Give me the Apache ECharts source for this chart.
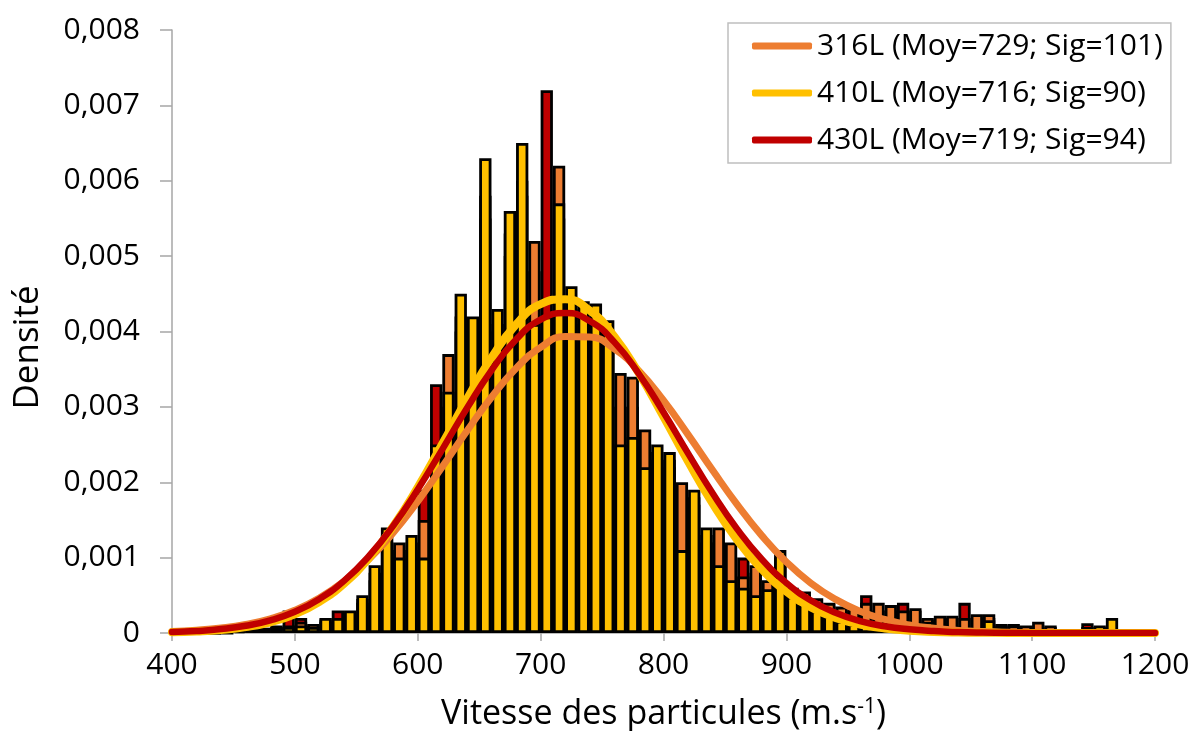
<!DOCTYPE html>
<html><head><meta charset="utf-8">
<script src="https://cdn.jsdelivr.net/npm/echarts@6/dist/echarts.min.js"></script>
<style>html,body{margin:0;padding:0;background:#fff}#c{width:1192px;height:731px}</style>
</head><body><div id="c"></div>
<script>
// Histogram bins (left edge, m/s), width 10
const bins = ['400','410','420','430','440','450','460','470','480','490',
  '500','510','520','530','540','550','560','570','580','590',
  '600','610','620','630','640','650','660','670','680','690',
  '700','710','720','730','740','750','760','770','780','790',
  '800','810','820','830','840','850','860','870','880','890',
  '900','910','920','930','940','950','960','970','980','990',
  '1000','1010','1020','1030','1040','1050','1060','1070','1080','1090',
  '1100','1110','1120','1130','1140','1150','1160','1170','1180','1190'];

// Histogram densities per bin
const hist316 = [0,0,0,0,0.00003,0.00004,0.00005,0.00006,0.00008,0.0001,
  0.00015,0.00012,0.00018,0.0002,0.00028,0.00045,0.0008,0.0013,0.0012,0.0012,
  0.0015,0.0024,0.0037,0.0042,0.004,0.0058,0.0041,0.0053,0.006,0.0052,
  0.004,0.0062,0.0044,0.0042,0.0042,0.004,0.00345,0.0034,0.0027,0.0024,
  0.0023,0.002,0.0018,0.0013,0.0014,0.0012,0.00075,0.0009,0.0007,0.001,
  0.0006,0.00055,0.00046,0.0004,0.00035,0.00033,0.0004,0.0004,0.00037,0.0003,
  0.00033,0.0002,0.00023,0.00023,0.0002,0.00025,0.00025,0.0001,0.0001,0.0001,
  0.00015,0.0001,0.00004,0.00004,0.00008,0.00008,0.00005,0,0,0.00002];
const hist410 = [0,0,0,0,0,0.00003,0.00004,0.00005,0.00007,0.00008,
  0.0001,0.00008,0.0002,0.0002,0.0003,0.0005,0.0009,0.0014,0.001,0.0013,
  0.001,0.0025,0.0032,0.0045,0.0042,0.0063,0.0043,0.0056,0.0065,0.0041,
  0.0042,0.0057,0.0046,0.0044,0.00437,0.00415,0.0025,0.0026,0.0022,0.0025,
  0.0024,0.0011,0.0019,0.0014,0.0009,0.0007,0.0006,0.0005,0.00058,0.0011,
  0.00048,0.0004,0.0003,0.00023,0.00016,0.00012,0.0001,0.00008,0.0001,0.0001,
  0.00005,0.00015,0.00005,0.00004,0.00005,0.00004,0.00017,0.00008,0.00005,0.00004,
  0.00004,0.00003,0.00003,0.00002,0.00003,0.0001,0.0002,0,0,0];
const hist430 = [0,0,0,0.00003,0.00003,0.00005,0.00005,0.00007,0.0001,0.0003,
  0.0002,0.0001,0.00015,0.0003,0.00025,0.0004,0.0007,0.0012,0.0011,0.0011,
  0.0019,0.0033,0.003,0.004,0.0039,0.0055,0.004,0.005,0.0058,0.0048,
  0.0072,0.0055,0.0043,0.0041,0.0041,0.0039,0.003,0.003,0.0025,0.0023,
  0.0022,0.0018,0.0017,0.0012,0.0012,0.001,0.001,0.0008,0.00065,0.0009,
  0.00055,0.0005,0.0004,0.00035,0.0003,0.0003,0.0005,0.0003,0.0003,0.0004,
  0.0003,0.00018,0.0002,0.0002,0.0004,0.0002,0.0002,0.00012,0.00012,0.00008,
  0.0001,0.00008,0.00005,0.00003,0.00013,0.00005,0.00003,0,0,0.00004];

// Fitted normal curves, sampled every 20 m/s
const curveX = [400,420,440,460,480,500,520,540,560,580,600,620,640,660,680,700,720,740,760,780,
  800,820,840,860,880,900,920,940,960,980,1000,1020,1040,1060,1080,1100,1120,1140,1160,1180,1200];
const curve316 = [0.0000196,0.0000367,0.0000659,0.0001138,0.0001891,0.0003022,0.0004643,0.0006858,0.000974,0.00133,
  0.001747,0.002206,0.002679,0.003128,0.003511,0.00379,0.003934,0.003927,0.003768,0.003477,
  0.003085,0.002632,0.002159,0.001703,0.001292,0.000942,0.000661,0.000446,0.000289,0.00018,
  0.000108,0.0000622,0.0000345,0.0000184,0.0000094,0.0000046,0.0000022,0.000001,0.0000004,0.0000002,0.0000001];
const curve410 = [0.0000093,0.0000199,0.0000402,0.0000776,0.0001424,0.0002489,0.0004138,0.0006551,0.000987,0.001415,
  0.001932,0.00251,0.003104,0.003653,0.004092,0.004364,0.004429,0.004278,0.003934,0.003443,
  0.002868,0.002274,0.001716,0.001233,0.000843,0.000548,0.00034,0.0002,0.0001124,0.00006,
  0.0000305,0.0000148,0.0000068,0.000003,0.0000012,0.0000005,0.0000002,0.0000001,0,0,0];
const curve430 = [0.0000134,0.000027,0.0000519,0.0000953,0.0001675,0.0002813,0.0004514,0.000692,0.001015,0.001422,
  0.001904,0.002437,0.002981,0.003485,0.003894,0.004158,0.004244,0.004139,0.003859,0.003438,
  0.002928,0.002383,0.001853,0.001378,0.000979,0.000665,0.000431,0.000268,0.0001586,0.0000899,
  0.0000487,0.0000252,0.0000125,0.0000059,0.0000027,0.0000012,0.0000005,0.0000002,0.0000001,0,0];

const names = ['316L (Moy=729; Sig=101)','410L (Moy=716; Sig=90)','430L (Moy=719; Sig=94)'];
const C_ORANGE = '#ED7D31', C_YELLOW = '#FFC000', C_RED = '#C00000';
const FONT = "'Open Sans', 'Noto Sans', sans-serif";

const chart = echarts.init(document.getElementById('c'), null, {renderer:'canvas'});
function barSeries(name, data, color, z){
  return {type:'bar', name:name, xAxisIndex:1, yAxisIndex:0, data:data,
    barGap:'-100%', barCategoryGap:'0%', silent:true, z:z,
    itemStyle:{color:color, borderColor:'#000', borderWidth:2.8}};
}
function lineSeries(name, ys, color, w, z){
  return {type:'line', name:name, xAxisIndex:0, yAxisIndex:0,
    data: curveX.map((x,i)=>[x, ys[i]]), smooth:true, symbol:'none', silent:true, z:z,
    lineStyle:{width:w, color:color, cap:'round', join:'round'}, itemStyle:{color:color}};
}
const axisGray = '#A6A6A6';
chart.setOption({
  animation:false,
  backgroundColor:'#fff',
  textStyle:{fontFamily:FONT},
  grid:{left:172, right:37, top:30, bottom:98, containLabel:false, outerBoundsMode:'none'},
  legend:{data:names, orient:'vertical', left:728, top:23, padding:[8,8,8,24],
    itemWidth:60, itemHeight:7, itemGap:17, icon:'roundRect',
    backgroundColor:'#fff', borderColor:'#BFBFBF', borderWidth:1.5,
    textStyle:{fontSize:30, fontFamily:FONT, color:'#000'}},
  xAxis:[
    {type:'value', min:400, max:1200, interval:100, position:'bottom',
      axisLine:{show:true, onZero:false, lineStyle:{color:axisGray, width:1.5}},
      axisTick:{show:true, length:8, lineStyle:{color:axisGray, width:1.5}},
      axisLabel:{fontSize:30, color:'#000', margin:17, fontFamily:FONT,
        formatter:function(v){ return String(v); }},
      splitLine:{show:false},
      name:'Vitesse des particules (m.s{sup|-1})', nameLocation:'middle', nameGap:64,
      nameTextStyle:{fontSize:34, color:'#000', fontFamily:FONT,
        rich:{sup:{fontSize:21, color:'#000', fontFamily:FONT, verticalAlign:'top'}}}},
    {type:'category', data:bins, show:false, boundaryGap:true}
  ],
  yAxis:{type:'value', min:0, max:0.008, interval:0.001,
    axisLine:{show:true, lineStyle:{color:axisGray, width:1.5}},
    axisTick:{show:true, length:12, lineStyle:{color:axisGray, width:1.5}},
    axisLabel:{fontSize:30, color:'#000', margin:32, fontFamily:FONT,
      formatter:function(v){ return v===0 ? '0' : v.toFixed(3).replace('.', ','); }},
    splitLine:{show:false},
    name:'Densité', nameLocation:'middle', nameGap:126, nameRotate:90,
    nameTextStyle:{fontSize:35, color:'#000', fontFamily:FONT, padding:[0,32,0,0]}},
  series:[
    barSeries('430L hist', hist430, C_RED, 2),
    barSeries('316L hist', hist316, C_ORANGE, 2),
    barSeries('410L hist', hist410, C_YELLOW, 2),
    lineSeries(names[0], curve316, C_ORANGE, 7, 5),
    lineSeries(names[1], curve410, C_YELLOW, 8, 5),
    lineSeries(names[2], curve430, C_RED, 6.5, 5)
  ]
});
</script></body></html>
